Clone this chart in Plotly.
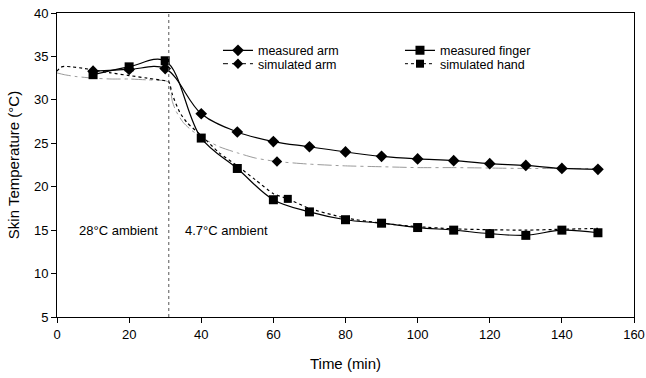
import plotly.graph_objects as go

# ---- data ----
meas_x = [10, 20, 30, 40, 50, 60, 70, 80, 90, 100, 110, 120, 130, 140, 150]
meas_arm = [33.3, 33.5, 33.6, 28.4, 26.3, 25.2, 24.6, 24.0, 23.5, 23.2, 23.0, 22.65, 22.45, 22.1, 22.0]
meas_finger = [32.9, 33.8, 34.5, 25.6, 22.1, 18.5, 17.1, 16.2, 15.8, 15.3, 15.0, 14.6, 14.4, 15.0, 14.7]

sim_arm_x = [0, 2, 5, 10, 15, 20, 25, 30, 31, 32, 33, 35, 37, 40, 45, 50, 55, 61, 70, 80, 90, 100, 110, 120, 130, 140, 150]
sim_arm_y = [33.1, 32.9, 32.7, 32.5, 32.4, 32.4, 32.3, 32.2, 32.0, 29.8, 28.7, 27.4, 26.6, 25.7, 24.6, 23.9, 23.3, 22.9, 22.6, 22.4, 22.3, 22.2, 22.2, 22.15, 22.1, 22.1, 22.1]

sim_hand_x = [0, 1, 2, 4, 7, 10, 15, 20, 25, 30, 31, 32, 34, 36, 40, 45, 50, 55, 60, 64, 70, 80, 90, 100, 110, 120, 130, 140, 150]
sim_hand_y = [33.3, 33.75, 33.85, 33.8, 33.65, 33.45, 33.1, 32.8, 32.5, 32.2, 32.1, 30.6, 28.6, 27.4, 25.9, 23.9, 22.4, 20.8, 19.2, 18.6, 17.5, 16.4, 15.8, 15.4, 15.15, 15.05, 15.0, 15.1, 15.2]

sim_arm_mark_x = [61]
sim_arm_mark_y = [22.9]
sim_hand_mark_x = [64]
sim_hand_mark_y = [18.6]

switch_time = 31
x_ticks = [0, 20, 40, 60, 80, 100, 120, 140, 160]
y_ticks = [5, 10, 15, 20, 25, 30, 35, 40]

FONT = "Liberation Sans, Arial, sans-serif"
ARM_DASH = "14px,4px,3px,4px"

fig = go.Figure()

# simulated lines (no legend)
fig.add_trace(go.Scatter(x=sim_arm_x, y=sim_arm_y, mode="lines",
                         line=dict(color="#9a9a9a", width=1, dash=ARM_DASH, shape="spline", smoothing=0.6),
                         showlegend=False, hoverinfo="skip"))
fig.add_trace(go.Scatter(x=sim_hand_x, y=sim_hand_y, mode="lines",
                         line=dict(color="black", width=1.2, dash="dot", shape="spline", smoothing=0.6),
                         showlegend=False, hoverinfo="skip"))

# measured
fig.add_trace(go.Scatter(x=meas_x, y=meas_arm, mode="lines+markers", name="measured arm",
                         line=dict(color="black", width=1.2, shape="spline", smoothing=1.0),
                         marker=dict(symbol="diamond", size=9, color="black"), legend="legend"))
fig.add_trace(go.Scatter(x=meas_x, y=meas_finger, mode="lines+markers", name="measured finger",
                         line=dict(color="black", width=1.2, shape="spline", smoothing=1.0),
                         marker=dict(symbol="square", size=9, color="black"), legend="legend"))

# simulated markers (legend entries)
fig.add_trace(go.Scatter(x=sim_arm_mark_x, y=sim_arm_mark_y, mode="lines+markers", name="simulated arm",
                         line=dict(color="black", width=1, dash="5px,4px"),
                         marker=dict(symbol="diamond", size=8, color="black"), legend="legend2"))
fig.add_trace(go.Scatter(x=sim_hand_mark_x, y=sim_hand_mark_y, mode="lines+markers", name="simulated hand",
                         line=dict(color="black", width=1, dash="dot"),
                         marker=dict(symbol="square", size=8, color="black"), legend="legend2"))

fig.add_shape(type="line", xref="x", yref="paper", x0=switch_time, x1=switch_time, y0=0, y1=1,
              line=dict(color="#555555", width=1, dash="dot"))

fig.add_annotation(x=17.1, y=15, text="28°C ambient", showarrow=False, font=dict(size=13, color="black", family=FONT))
fig.add_annotation(x=47.0, y=15, text="4.7°C ambient", showarrow=False, font=dict(size=13, color="black", family=FONT))

leg_common = dict(orientation="h", xanchor="left", yanchor="middle", bgcolor="rgba(0,0,0,0)",
                  font=dict(size=12.5, color="black", family=FONT), entrywidth=137, entrywidthmode="pixels",
                  tracegroupgap=0, itemwidth=30)

fig.update_layout(
    width=646, height=378,
    margin=dict(l=57, r=12, t=13, b=61),
    paper_bgcolor="white", plot_bgcolor="white",
    font=dict(family=FONT, size=13, color="black"),
    legend=dict(x=0.279, y=0.876, **leg_common),
    legend2=dict(x=0.279, y=0.832, **leg_common),
    xaxis=dict(range=[0, 160], tickvals=x_ticks, ticks="outside", ticklen=5, tickwidth=1, tickcolor="black",
               showline=True, linecolor="black", linewidth=1, mirror=True, showgrid=False, zeroline=False,
               tickfont=dict(size=13), automargin=False, ticklabeloverflow="allow",
               title=dict(text="Time (min)", font=dict(size=15), standoff=17)),
    yaxis=dict(range=[5, 40], tickvals=y_ticks, ticks="outside", ticklen=5, tickwidth=1, tickcolor="black",
               showline=True, linecolor="black", linewidth=1, mirror=True, showgrid=False, zeroline=False,
               tickfont=dict(size=13), automargin=False,
               title=dict(text="Skin Temperature (°C)", font=dict(size=15), standoff=10)),
)

fig.write_html("out.html", post_script="document.body.style.margin='0px';",
               config={"displayModeBar": False})
